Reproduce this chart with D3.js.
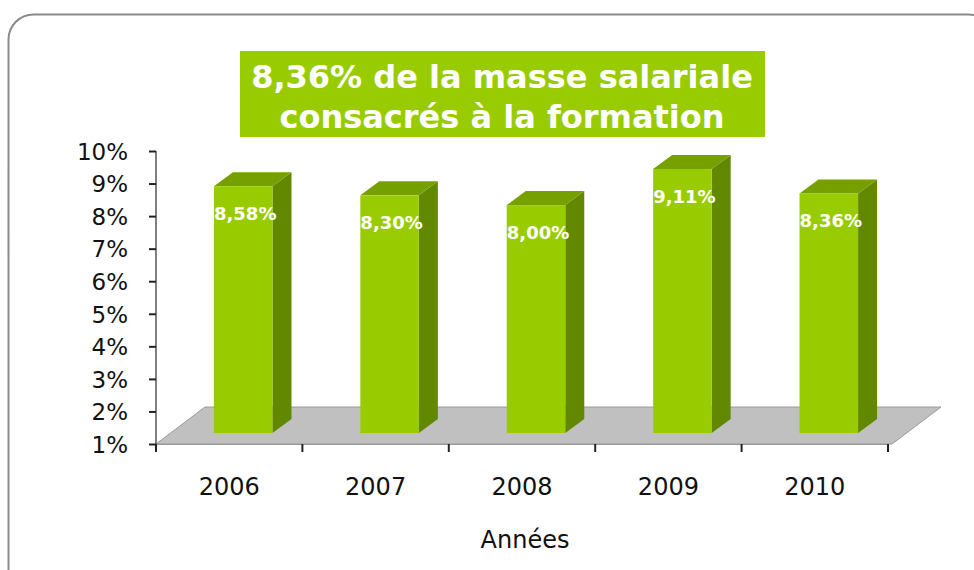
<!DOCTYPE html>
<html>
<head>
<meta charset="utf-8">
<script src="https://cdn.jsdelivr.net/npm/d3@7"></script>
<style>
  html, body { margin: 0; padding: 0; background: #fff; }
  svg { display: block; }
</style>
</head>
<body>
<svg id="chart" width="974" height="570"></svg>
<script>
// ---- Data ----
const categories = ["2006", "2007", "2008", "2009", "2010"];
const values = [8.58, 8.30, 8.00, 9.11, 8.36];
const valueLabels = ["8,58%", "8,30%", "8,00%", "9,11%", "8,36%"];
const yTicks = [1, 2, 3, 4, 5, 6, 7, 8, 9, 10];
const titleLines = ["8,36% de la masse salariale", "consacrés à la formation"];
const xAxisTitle = "Années";

// ---- Layout ----
const svg = d3.select("#chart");
const FONT = "'DejaVu Sans', Verdana, sans-serif";
const plotLeft = 156, plotRight = 888, plotTop = 151, plotBottom = 444;
const floorDepth = { dx: 49, dy: -37 };
const barShift = { dx: 14, dy: -11 };   // bar front face position within the floor depth
const barDepth = { dx: 19, dy: -14 };

const front = "#99CC00", topC = "#76A000", sideC = "#628800";

// Outer rounded frame
svg.append("rect")
  .attr("x", 8.5).attr("y", 14.5)
  .attr("width", 985).attr("height", 580)
  .attr("rx", 25).attr("ry", 25)
  .attr("fill", "#fff").attr("stroke", "#8a8a8a").attr("stroke-width", 2);

// Scales
const x = d3.scaleBand().domain(categories).range([plotLeft, plotRight]).paddingInner(0).paddingOuter(0);
const y = d3.scaleLinear().domain([1, 10]).range([plotBottom, plotTop]);

// Floor (gray parallelogram)
const floorPts = [
  [plotLeft, plotBottom],
  [plotLeft + floorDepth.dx, plotBottom + floorDepth.dy],
  [plotRight + floorDepth.dx + 4, plotBottom + floorDepth.dy],
  [plotRight + 4, plotBottom]
];
svg.append("polygon")
  .attr("points", floorPts.map(p => p.join(",")).join(" "))
  .attr("fill", "#C0C0C0")
  .attr("stroke", "#9a9a9a").attr("stroke-width", 1);

// Bars
const barW = x.bandwidth() * 0.4;
const bars = svg.append("g").selectAll("g").data(categories).join("g");
bars.each(function(c, i) {
  const g = d3.select(this);
  const x0 = x(c) + x.bandwidth() / 2 - barW / 2 + barShift.dx;
  const x1 = x0 + barW;
  const yTop = y(values[i]) + barShift.dy;
  const yBot = y(1) + barShift.dy;
  const dx = barDepth.dx, dy = barDepth.dy;
  // side face
  g.append("polygon")
    .attr("points", [[x1, yTop], [x1 + dx, yTop + dy], [x1 + dx, yBot + dy], [x1, yBot]].map(p => p.join(",")).join(" "))
    .attr("fill", sideC);
  // top face
  g.append("polygon")
    .attr("points", [[x0, yTop], [x0 + dx, yTop + dy], [x1 + dx, yTop + dy], [x1, yTop]].map(p => p.join(",")).join(" "))
    .attr("fill", topC);
  // front face
  g.append("rect")
    .attr("x", x0).attr("y", yTop)
    .attr("width", barW).attr("height", yBot - yTop)
    .attr("fill", front);
  // value label
  g.append("text")
    .attr("x", x0 + barW / 2 + 2)
    .attr("y", yTop + 34)
    .attr("text-anchor", "middle")
    .attr("font-family", FONT).attr("font-weight", "bold")
    .attr("font-size", 18).attr("fill", "#fff")
    .text(valueLabels[i]);
});

// Y axis
const yAxis = d3.axisLeft(y).tickValues(yTicks).tickSize(7).tickFormat(d => d + "%");
const gy = svg.append("g").attr("transform", `translate(${plotLeft},0)`).call(yAxis);
gy.select(".domain").attr("stroke", "#555").attr("stroke-width", 1.5).attr("d", `M0,${plotTop}V${plotBottom}`);
gy.selectAll(".tick line").attr("stroke", "#222").attr("stroke-width", 2);
gy.selectAll(".tick text")
  .attr("x", -28).attr("dy", "0.36em")
  .attr("font-family", FONT).attr("font-size", 23).attr("fill", "#111");

// X axis
const xAxis = d3.axisBottom(x).tickSize(0).tickSizeOuter(0);
const gx = svg.append("g").attr("transform", `translate(0,${plotBottom})`).call(xAxis);
gx.select(".domain").attr("stroke", "#999").attr("stroke-width", 1);
gx.selectAll(".tick text")
  .attr("y", 51).attr("dy", 0)
  .attr("font-family", FONT).attr("font-size", 24).attr("fill", "#111");
// tick marks at band boundaries
const boundaries = categories.map(c => x(c)).concat([plotRight]);
svg.append("g").selectAll("line").data(boundaries).join("line")
  .attr("x1", d => d).attr("x2", d => d)
  .attr("y1", plotBottom).attr("y2", plotBottom + 8)
  .attr("stroke", "#222").attr("stroke-width", 2);

// X axis title
svg.append("text")
  .attr("x", 525).attr("y", 548)
  .attr("text-anchor", "middle")
  .attr("font-family", FONT).attr("font-size", 24).attr("fill", "#111")
  .text(xAxisTitle);

// Title box
svg.append("rect")
  .attr("x", 240).attr("y", 51).attr("width", 525).attr("height", 86)
  .attr("fill", "#99CC00");
svg.append("g").selectAll("text").data(titleLines).join("text")
  .attr("x", 502)
  .attr("y", (d, i) => 88 + i * 40)
  .attr("text-anchor", "middle")
  .attr("font-family", FONT).attr("font-weight", "bold")
  .attr("font-size", 32).attr("fill", "#fff")
  .text(d => d);
</script>
</body>
</html>
